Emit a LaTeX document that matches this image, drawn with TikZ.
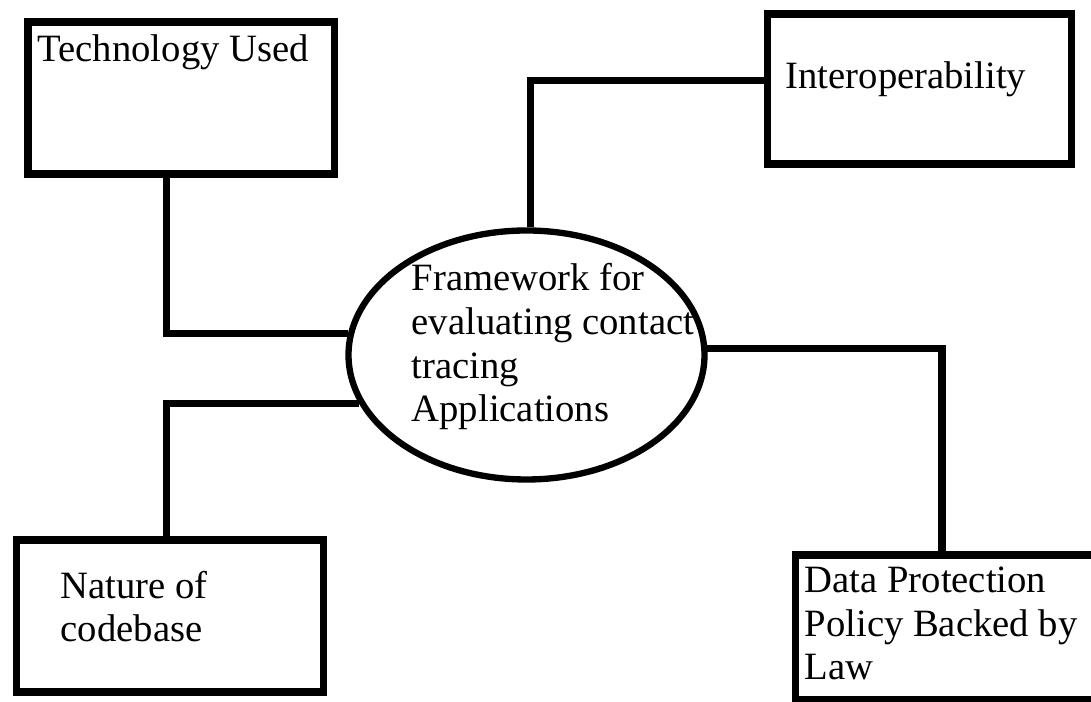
\documentclass[tikz,border=0pt]{standalone}
\usepackage{fontspec}
\setmainfont{Liberation Serif}
\usetikzlibrary{shapes.geometric}
\begin{document}
\begin{tikzpicture}[
  box/.style={draw, line width=2pt, rectangle, inner sep=0pt, anchor=north west},
  hub/.style={draw, ellipse, line width=1.8pt, inner sep=0pt,
    minimum width=3.56cm, minimum height=2.49cm},
  txt/.style={inner sep=0pt, anchor=base west, align=left,
    font=\fontsize{11}{12.5}\selectfont},
  link/.style={line width=2pt}
]
\useasboundingbox (0,0) rectangle (10.91,7.02);
% boxes
\node[box, minimum width=3.06cm, minimum height=1.52cm] (tech) at (0.245,6.835) {};
\node[box, minimum width=3.04cm, minimum height=1.50cm] (inter) at (7.635,6.915) {};
\node[box, minimum width=3.07cm, minimum height=1.52cm] (code) at (0.125,1.655) {};
\node[box, minimum width=3.20cm, minimum height=1.45cm] (law) at (7.915,1.505) {};
\node[hub] (frame) at (5.265,3.47) {};
% labels (base = last line)
\node[txt] (tech-t) at ([shift={(0.125,-0.435)}]tech.north west) {Technology Used};
\node[txt] (inter-t) at ([shift={(0.215,-0.785)}]inter.north west) {Interoperability};
\node[txt] (code-t) at ([shift={(0.475,-1.055)}]code.north west) {Nature of\\codebase};
\node[txt] (law-t) at ([shift={(0.125,-1.285)}]law.north west) {Data Protection\\Policy Backed by\\Law};
\node[txt] (frame-t) at ([shift={(-1.155,-0.67)}]frame.center) {Framework for\\evaluating contact\\tracing\\Applications};
% connectors
\draw[link] ([xshift=-0.145cm]tech.south) |- (frame.173);
\draw[link] ([xshift=-0.03cm]code.north) |- (frame.196);
\draw[link] (frame.2) -| ([xshift=1.505cm]law.north west);
\draw[link] (frame.88) |- ([yshift=0.085cm]inter.west);
\end{tikzpicture}
\end{document}
